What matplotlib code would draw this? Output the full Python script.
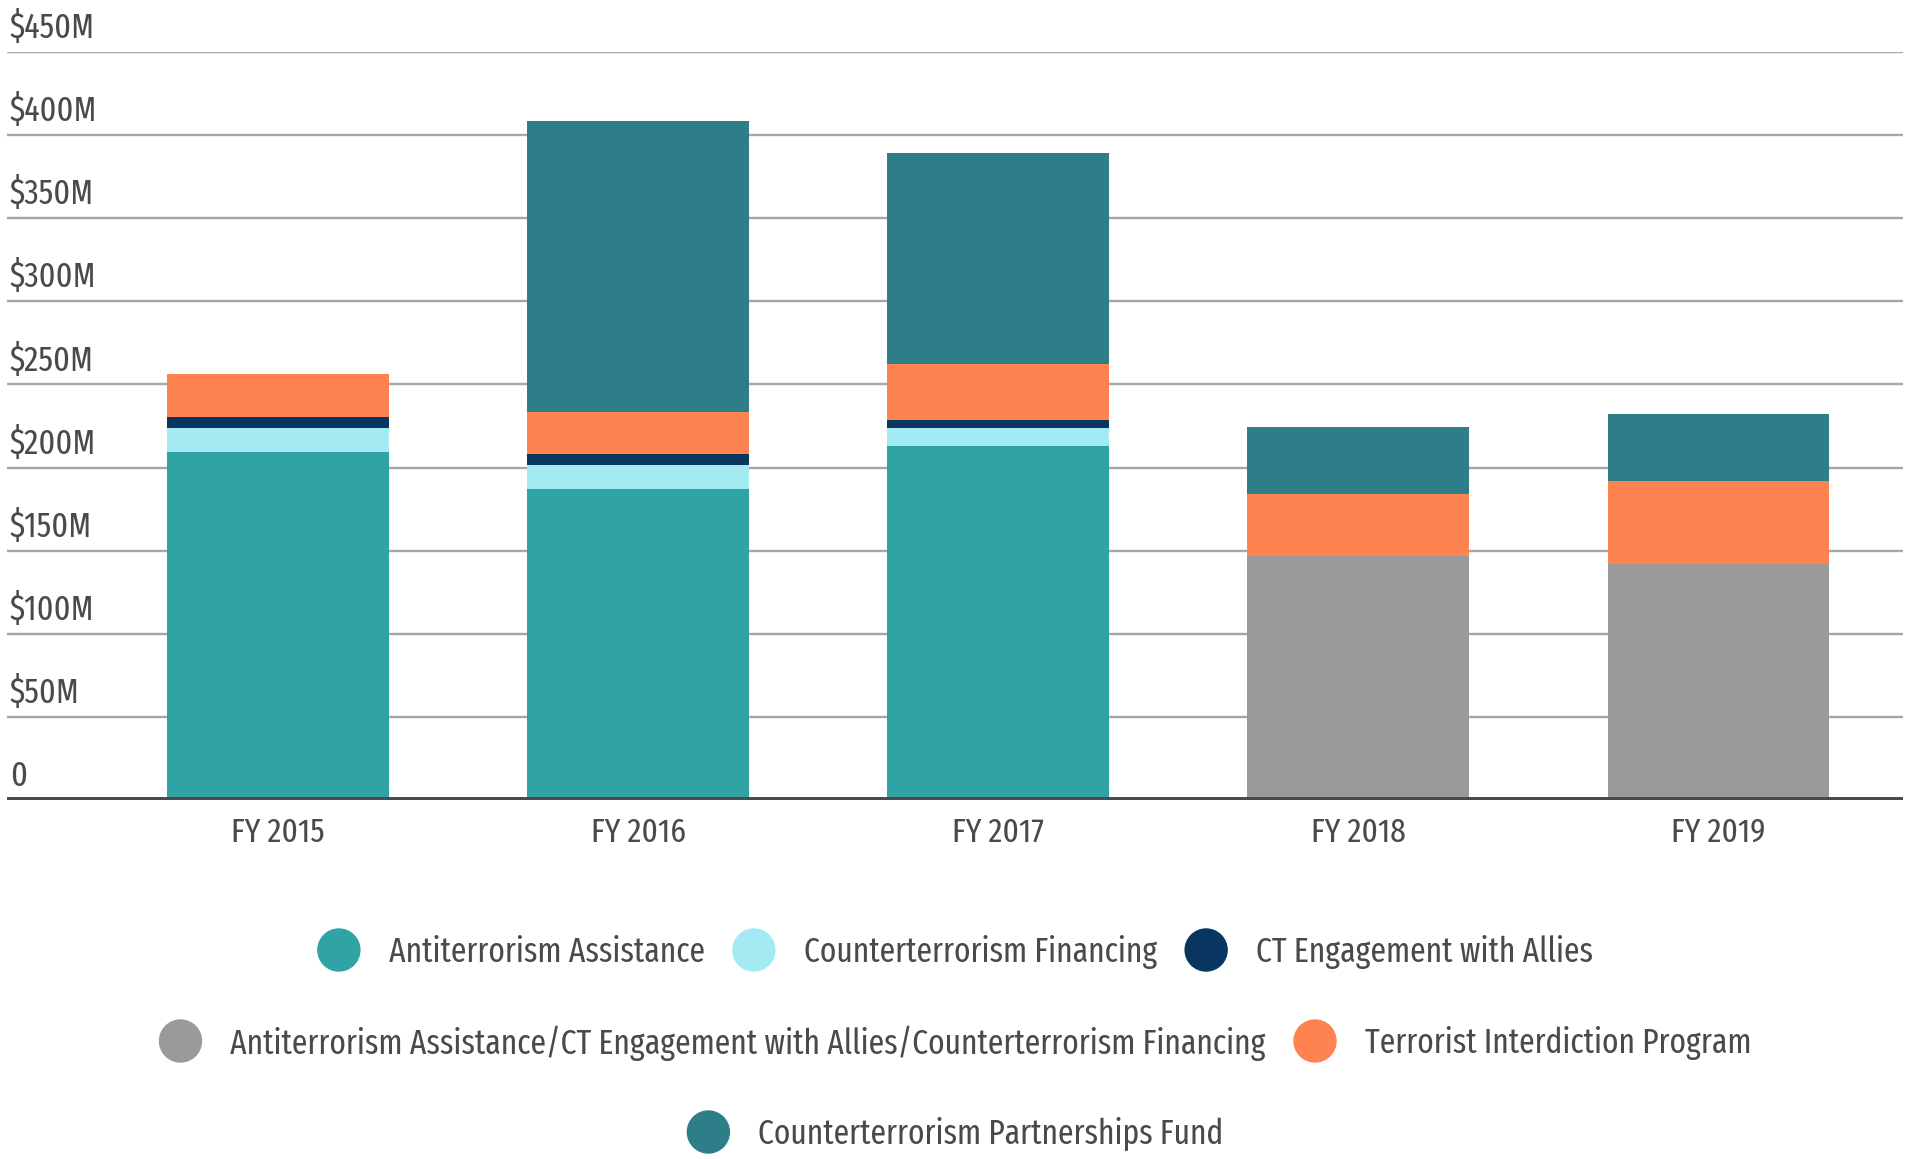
import numpy as np
import matplotlib.pyplot as plt
from matplotlib.patches import Ellipse

plt.rcParams['font.family'] = ['Fira Sans Extra Condensed', 'DejaVu Sans']
plt.rcParams['font.weight'] = 400

years = ["FY 2015", "FY 2016", "FY 2017", "FY 2018", "FY 2019"]

# values in $M, bottom to top
series_names = [
    "Antiterrorism Assistance",
    "Counterterrorism Financing",
    "CT Engagement with Allies",
    "Antiterrorism Assistance/CT Engagement with Allies/Counterterrorism Financing",
    "Terrorist Interdiction Program",
    "Counterterrorism Partnerships Fund",
]
ata = [209.4, 187.1, 213.0, 0, 0]
ctf = [14.4, 14.5, 10.8, 0, 0]
cte = [6.6, 6.6, 4.8, 0, 0]
combined = [0, 0, 0, 147.0, 142.2]
tip = [25.9, 25.3, 33.7, 37.1, 49.7]
ctpf = [0, 175.0, 127.0, 40.3, 40.4]

colors = ["#30a4a4", "#a3eaf3", "#083660", "#9a9a9a", "#ff8350", "#2d7e88"]

yticks = [0, 50, 100, 150, 200, 250, 300, 350, 400, 450]
ylabels = ["0", "$50M", "$100M", "$150M", "$200M", "$250M", "$300M",
           "$350M", "$400M", "$450M"]

txt = "#4a4a4a"

fig = plt.figure(figsize=(19.11, 11.59), dpi=100)
ax = fig.add_axes([0.0037, 0.3097, 0.992, 0.6454])

x = np.arange(len(years))
bottom = np.zeros(len(years))
for vals, c in zip([ata, ctf, cte, combined, tip, ctpf], colors):
    ax.bar(x, vals, width=0.616, bottom=bottom, color=c, zorder=3)
    bottom += np.array(vals)

ax.set_xlim(-0.753, 4.512)
ax.set_ylim(0, 450)
for t in yticks[1:]:
    ax.axhline(t, color="#a6a6a6", lw=1.7, zorder=1)
ax.axhline(0, color="#4a4a4a", lw=4.3, zorder=4)

for s in ax.spines.values():
    s.set_visible(False)
ax.set_yticks([])
ax.set_xticks(x)
ax.set_xticklabels(years, fontsize=24.5, color=txt)
ax.tick_params(axis="x", length=0, pad=12)

for t, lab in zip(yticks, ylabels):
    ax.annotate(lab, xy=(0, t), xycoords=("axes fraction", "data"),
                xytext=(2, 10), textcoords="offset points",
                fontsize=25, color=txt, ha="left", va="baseline",
                annotation_clip=False)

# legend drawn by hand, rows centred
rows = [[0, 1, 2], [3, 4], [5]]
row_y = [950, 1041, 1132]
W, H = 1911, 1159
r = 21
gap_ct = 29
gap_item = 28
renderer = fig.canvas.get_renderer()
for row, yy in zip(rows, row_y):
    items = []
    total = 0
    for i in row:
        t = fig.text(0, 0, series_names[i], fontsize=24.6, color=txt,
                     ha="left", va="center")
        w = t.get_window_extent(renderer).width
        items.append((i, t, w))
        total += 2 * r + gap_ct + w
    total += gap_item * (len(row) - 1)
    xs = W / 2 - total / 2
    for i, t, w in items:
        cx = xs + r
        fig.patches.append(Ellipse((cx / W, 1 - yy / H), 2 * r / W, 2 * r / H,
                                   transform=fig.transFigure, color=colors[i]))
        t.set_position(((cx + r + gap_ct) / W, 1 - (yy + 2) / H))
        xs = cx + r + gap_ct + w + gap_item

fig.savefig("out.png", dpi=100)
